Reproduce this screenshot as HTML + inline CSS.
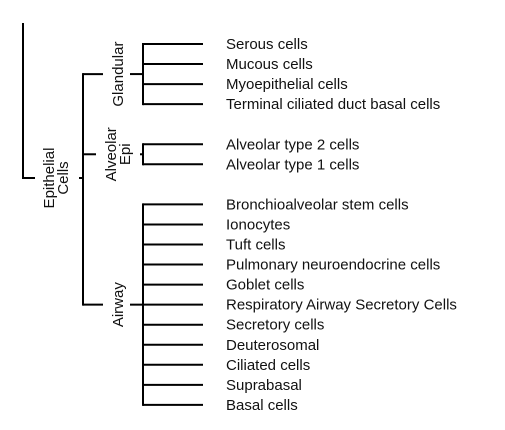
<!DOCTYPE html>
<html><head><meta charset="utf-8"><style>
html,body{margin:0;padding:0;background:#fff;}
svg{display:block;font-family:"Liberation Sans",Arial,sans-serif;}
</style></head><body>
<svg id="chart" width="505" height="430" viewBox="0 0 505 430"></svg>
<script>
const groupNames = ["Glandular", "Alveolar Epi", "Airway"];
const glandularLeaves = ["Serous cells", "Mucous cells", "Myoepithelial cells", "Terminal ciliated duct basal cells"];
const alveolarLeaves = ["Alveolar type 2 cells", "Alveolar type 1 cells"];
const airwayLeaves = ["Bronchioalveolar stem cells", "Ionocytes", "Tuft cells", "Pulmonary neuroendocrine cells", "Goblet cells", "Respiratory Airway Secretory Cells", "Secretory cells", "Deuterosomal", "Ciliated cells", "Suprabasal", "Basal cells"];
const groupLeaves = [glandularLeaves, alveolarLeaves, airwayLeaves];
const groupStartRows = [0, 5, 8];

const svg = document.getElementById('chart');
const NS = 'http://www.w3.org/2000/svg';
const rowY = r => 44 + r * 20.05;
function line(x1,y1,x2,y2,name){
  const l = document.createElementNS(NS,'line');
  l.setAttribute('x1',x1);l.setAttribute('y1',y1);l.setAttribute('x2',x2);l.setAttribute('y2',y2);
  l.setAttribute('stroke','#000');l.setAttribute('stroke-width','2');
  
  
  svg.appendChild(l);
}
function text(x,y,s,name,rot){
  const t = document.createElementNS(NS,'text');
  t.setAttribute('x',x);t.setAttribute('y',y);
  t.setAttribute('font-size','15');t.setAttribute('fill','#111');
  if(rot){t.setAttribute('text-anchor','middle');t.setAttribute('transform','rotate(-90 '+x+' '+y+')');}
  t.textContent = s;
  
  
  svg.appendChild(t);
  return t;
}
const groupMid = [];
groupLeaves.forEach((leaves,g)=>{
  const r0 = groupStartRows[g];
  const yTop = rowY(r0), yBot = rowY(r0 + leaves.length - 1);
  leaves.forEach((lf,i)=>{
    const y = rowY(r0+i);
    line(143,y,203,y,'leaf-branch');
    text(226,y+5,lf,'leaf-label');
  });
  line(143,yTop-1,143,yBot+1,'group-bracket');
  const ym = (yTop+yBot)/2;
  groupMid.push(ym);
  const stubStart = leaves.length===2 ? 140 : 130;
  line(stubStart,ym,143,ym,'group-stub');
  const parts = groupNames[g].split(' ');
  if(parts.length===1){
    text(123,ym,parts[0],'group-label',true);
  } else {
    text(116,ym,parts[0],'group-label',true);
    text(130,ym,parts[1],'group-label',true);
  }
});
line(83,groupMid[0]-1,83,groupMid[2]+1,'epithelial-bracket');
line(83,groupMid[0],103,groupMid[0],'glandular-connector');
line(83,groupMid[1],96,groupMid[1],'alveolar-connector');
line(83,groupMid[2],103,groupMid[2],'airway-connector');
const epiY = 178;
line(79,epiY,83,epiY,'epithelial-stub');
text(54,epiY,'Epithelial','epithelial-label',true);
text(68,epiY,'Cells','epithelial-label',true);
line(23,23,23,epiY+1,'root-branch');
line(22,epiY,35,epiY,'root-stub');
</script>
</body></html>
